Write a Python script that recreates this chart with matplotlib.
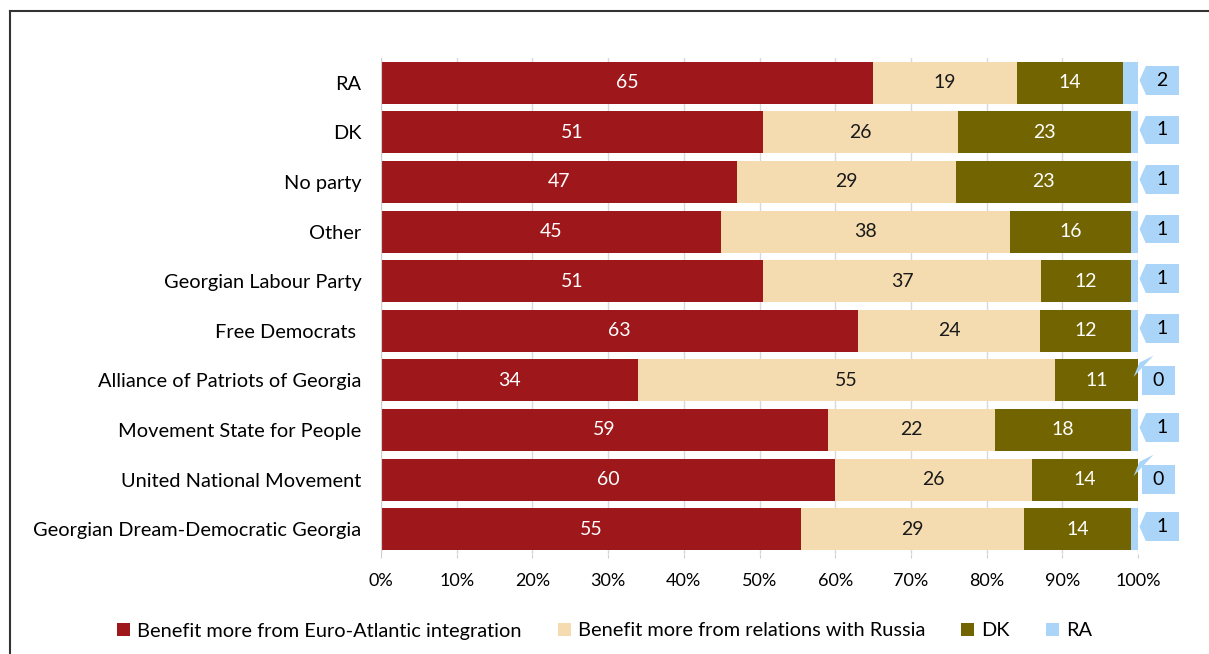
import numpy as np
import matplotlib.pyplot as plt
from matplotlib.patches import Patch
from matplotlib.lines import Line2D

plt.rcParams['font.family'] = ['Lato', 'DejaVu Sans']

# data, top bar first
parties = ["RA", "DK", "No party", "Other", "Georgian Labour Party",
           "Free Democrats ", "Alliance of Patriots of Georgia",
           "Movement State for People", "United National Movement",
           "Georgian Dream-Democratic Georgia"]
euro = [65.0, 50.5, 47.0, 44.9, 50.5, 63.0, 34.0, 59.0, 60.0, 55.5]
russia = [19.0, 25.7, 29.0, 38.2, 36.7, 24.1, 55.0, 22.1, 26.0, 29.4]
dk = [14.0, 22.9, 23.1, 16.0, 11.9, 12.0, 11.0, 18.0, 14.0, 14.2]
ra = [2.0, 0.9, 0.9, 0.9, 0.9, 0.9, 0.0, 0.9, 0.0, 0.9]

euro_lbl = [65, 51, 47, 45, 51, 63, 34, 59, 60, 55]
russia_lbl = [19, 26, 29, 38, 37, 24, 55, 22, 26, 29]
dk_lbl = [14, 23, 23, 16, 12, 12, 11, 18, 14, 14]
ra_lbl = [2, 1, 1, 1, 1, 1, 0, 1, 0, 1]

series = ["Benefit more from Euro-Atlantic integration",
          "Benefit more from relations with Russia", "DK", "RA"]
colors = ["#9e181b", "#f4dcb0", "#726400", "#abd5f8"]
txt_colors = ["white", "#1a1a1a", "white", None]


def main():
    fig = plt.figure(figsize=(12.09, 6.54), dpi=100)
    ax = fig.add_axes([381 / 1209, 1 - 554 / 654, 757 / 1209, 496 / 654])

    y = np.arange(len(parties))
    left = np.zeros(len(parties))
    vals = [euro, russia, dk, ra]
    lbls = [euro_lbl, russia_lbl, dk_lbl, ra_lbl]
    for k in range(4):
        w = np.array(vals[k])
        ax.barh(y, w, left=left, height=0.85, color=colors[k], zorder=2)
        if txt_colors[k] is not None:
            for i in range(len(parties)):
                ax.text(left[i] + w[i] / 2, y[i], str(lbls[k][i]),
                        ha='center', va='center', fontsize=14,
                        color=txt_colors[k], zorder=3)
        left += w

    # callouts for RA
    for i in range(len(parties)):
        end = left[i]
        if ra_lbl[i] == 0:
            xy, off = (end + 0.2, y[i] - 0.36), (14, -13)
        else:
            xy, off = (end + 0.2, y[i] - 0.05), (16.5, 0)
        ax.annotate(" %d " % ra_lbl[i], xy=xy, xytext=off,
                    textcoords='offset points', ha='center', va='center',
                    fontsize=14, color='black', annotation_clip=False,
                    bbox=dict(boxstyle='square,pad=0.3', fc=colors[3], ec='none'),
                    arrowprops=dict(arrowstyle='wedge,tail_width=1.5,shrink_factor=0.5',
                                    fc=colors[3], ec='none', shrinkA=0, shrinkB=0))

    ax.set_xlim(0, 100)
    ax.set_ylim(len(parties) - 0.5, -0.5)
    ax.set_yticks(y)
    ax.set_yticklabels(parties, fontsize=14.4)
    ax.set_xticks(np.arange(0, 101, 10))
    ax.set_xticklabels(["%d%%" % v for v in range(0, 101, 10)], fontsize=13)
    ax.tick_params(axis='y', length=0, pad=14)
    ax.tick_params(axis='x', length=3, color='#d0d0d0', pad=11)
    ax.grid(axis='x', color='#d9d9d9', lw=1, zorder=0)
    for s in ['top', 'right', 'bottom']:
        ax.spines[s].set_visible(False)
    ax.spines['left'].set_color('#d0d0d0')

    handles = [Patch(facecolor=c, edgecolor='none') for c in colors]
    fig.legend(handles, series, loc='center', bbox_to_anchor=(0.5, 1 - 631 / 654),
               ncol=4, frameon=False, fontsize=14.4, handlelength=0.65,
               handleheight=0.65, handletextpad=0.35, columnspacing=1.8)

    # frame around the figure
    fig.add_artist(Line2D([10 / 1209, 1], [1 - 11 / 654] * 2, color='#333333', lw=1.5))
    fig.add_artist(Line2D([10 / 1209] * 2, [0, 1 - 11 / 654], color='#333333', lw=1.5))

    fig.savefig("out.png", dpi=100)


if __name__ == '__main__':
    main()
